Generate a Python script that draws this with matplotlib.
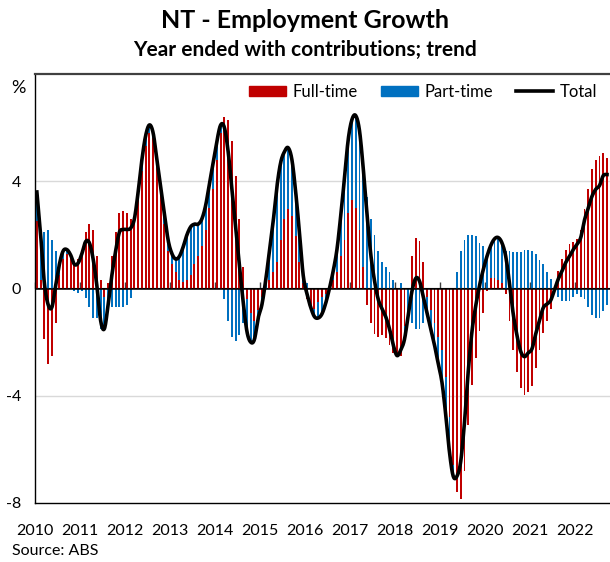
import numpy as np
import matplotlib.pyplot as plt
from matplotlib.lines import Line2D
from matplotlib.patches import Patch

# monthly contributions to year-ended growth (ppt), Jan 2010 - Sep 2022
full_time = [
    2.5, 0.3, -1.9, -2.8, -2.5, -1.3, 0.5, 1.1, 1.3, 1.2, 1.0, 1.1,          # 2010
    1.4, 2.1, 2.4, 2.2, 1.2, 0.3, -0.3, 0.2, 1.2, 2.1, 2.8, 2.9,             # 2011
    2.8, 2.6, 2.5, 3.3, 4.4, 5.3, 5.8, 5.6, 4.7, 3.6, 2.4, 1.4,              # 2012
    0.9, 0.6, 0.3, 0.25, 0.3, 0.5, 0.9, 1.2, 1.6, 2.2, 3.0, 3.7,             # 2013
    4.8, 5.8, 6.4, 6.3, 5.5, 4.2, 2.6, 0.8, -0.4, -0.9, -1.2, -0.8,          # 2014
    -0.3, 0.0, 0.3, 0.6, 1.0, 1.8, 2.6, 2.95, 2.7, 1.95, 1.0, 0.2,           # 2015
    -0.4, -0.7, -0.75, -0.5, -0.3, -0.2, -0.1, 0.3, 0.6, 1.2, 1.8, 2.8,      # 2016
    3.3, 3.0, 2.2, 0.8, -0.6, -1.3, -1.7, -1.8, -1.75, -1.85, -2.1, -2.4,    # 2017
    -2.4, -2.5, -1.4, 0.0, 1.2, 1.88, 1.78, 1.0, -0.3, -0.8, -1.3, -1.8,     # 2018
    -2.3, -3.3, -4.8, -6.6, -7.6, -7.85, -6.8, -5.1, -3.6, -2.6, -1.6, -0.9, # 2019
    -0.1, 0.4, 0.4, 0.3, 0.2, -0.2, -1.2, -2.3, -3.1, -3.7, -3.96, -3.85,    # 2020
    -3.65, -2.96, -2.28, -1.65, -1.2, -0.78, -0.1, 0.65, 1.1, 1.45, 1.65, 1.75,  # 2021
    1.85, 2.2, 2.95, 3.7, 4.44, 4.8, 4.94, 5.06, 4.85,                       # 2022
]
part_time = [
    1.1, 1.7, 2.1, 2.2, 1.8, 1.4, 0.4, 0.3, 0.15, 0.05, -0.1, -0.15,
    -0.1, -0.35, -0.7, -1.1, -1.1, -1.5, -1.2, -0.8, -0.7, -0.7, -0.7, -0.7,
    -0.6, -0.35, 0.1, 0.3, 0.4, 0.4, 0.3, 0.2, 0.1, 0.2, 0.4, 0.4,
    0.4, 0.5, 0.9, 1.3, 1.7, 1.8, 1.5, 1.2, 1.0, 0.9, 0.9, 1.0,
    0.7, 0.3, -0.4, -1.2, -1.8, -1.95, -1.75, -1.3, -1.2, -1.1, -0.7, -0.3,
    -0.3, 0.3, 1.1, 1.9, 2.8, 2.9, 2.5, 2.3, 2.1, 1.65, 1.1, 0.3,
    0.2, 0.0, -0.3, -0.6, -0.65, -0.35, 0.1, 0.35, 0.85, 1.5, 2.3, 2.75,
    3.0, 3.45, 3.7, 3.7, 3.4, 2.6, 2.0, 1.4, 1.0, 0.8, 0.6, 0.3,
    -0.1, 0.2, -0.5, -1.0, -1.3, -1.5, -1.5, -1.3, -0.6, -0.7, -0.8, -1.0,
    -1.2, -1.4, -1.3, -0.4, 0.6, 1.4, 1.8, 2.0, 2.0, 1.95, 1.7, 1.6,
    1.3, 1.2, 1.45, 1.6, 1.5, 1.4, 1.4, 1.35, 1.35, 1.35, 1.42, 1.45,
    1.4, 1.27, 1.08, 0.93, 0.62, 0.34, 0.05, -0.3, -0.45, -0.48, -0.45, -0.3,
    -0.2, -0.3, -0.4, -0.7, -1.0, -1.1, -1.1, -0.85, -0.6,
]
years = list(range(2010, 2023))

ft = np.array(full_time)
pt = np.array(part_time)
total = ft + pt
x = np.arange(len(ft)) + 0.5

# stacked like excel: positives pile up from zero, negatives pile down
pt_bottom = np.where(pt >= 0, np.maximum(ft, 0), np.minimum(ft, 0))


def smooth(xs, ys, n=10):
    # catmull-rom through the points, roughly what excel's "smoothed line" does
    p = np.column_stack([xs, ys])
    p = np.vstack([p[0], p, p[-1]])
    t = np.linspace(0, 1, n, endpoint=False)[:, None]
    out = []
    for i in range(1, len(p) - 2):
        p0, p1, p2, p3 = p[i - 1], p[i], p[i + 1], p[i + 2]
        seg = 0.5 * ((2 * p1) + (-p0 + p2) * t + (2 * p0 - 5 * p1 + 4 * p2 - p3) * t**2
                     + (-p0 + 3 * p1 - 3 * p2 + p3) * t**3)
        out.append(seg)
    out.append(p[-2][None, :])
    out = np.vstack(out)
    return out[:, 0], out[:, 1]


red = "#C00000"
blue = "#0070C0"
plt.rcParams["font.family"] = ["Lato", "DejaVu Sans"]

fig = plt.figure(figsize=(6.10, 5.62), dpi=100)
ax = fig.add_axes([35 / 610, 1 - 503 / 562, 575 / 610, 429 / 562])

ax.bar(x, ft, width=0.5, color=red, linewidth=0, zorder=2)
ax.bar(x, pt, width=0.5, bottom=pt_bottom, color=blue, linewidth=0, zorder=2)
sx, sy = smooth(x, total)
ax.plot(sx, sy, color="black", lw=2.6, solid_joinstyle="round", zorder=4)

ax.axhline(0, color="black", lw=1.1, zorder=3)
for g in (-4, 4):
    ax.axhline(g, color="#d9d9d9", lw=1.0, zorder=1)

ax.set_ylim(-8, 8)
ax.set_xlim(0, 153.3)
ax.set_yticks([-8, -4, 0, 4])
ax.set_yticklabels(["-8", "-4", "0", "4"])
ax.tick_params(axis="y", length=0, pad=10, labelsize=11.5)

ticks = [12 * (y - 2010) for y in years]
ax.set_xticks(ticks)
ax.set_xticklabels([str(y) for y in years])
ax.tick_params(axis="x", length=0, pad=15, labelsize=11.5)

# year tick marks sit on the zero line
sec = ax.secondary_xaxis(0.5)
sec.set_xticks(ticks)
sec.set_xticklabels([])
sec.tick_params(axis="x", direction="out", length=4, width=1, color="#404040")
sec.spines["bottom"].set_visible(False)

for s in ("left", "bottom"):
    ax.spines[s].set_color("black")
    ax.spines[s].set_linewidth(1.0)
ax.spines["top"].set_color("#404040")
ax.spines["top"].set_linewidth(1.6)
ax.spines["right"].set_visible(False)

handles = [Patch(color=red), Patch(color=blue), Line2D([], [], color="black", lw=2.6)]
ax.legend(handles, ["Full-time", "Part-time", "Total"], loc="upper right", ncol=3,
          frameon=False, fontsize=12, handlelength=2.2, handleheight=0.6,
          columnspacing=1.4, handletextpad=0.4, bbox_to_anchor=(0.995, 1.0),
          borderaxespad=0.2)

fig.text(0.5, 1 - 20 / 562, "NT - Employment Growth", ha="center", va="center",
         fontsize=18, fontweight="bold")
fig.text(0.5, 1 - 50 / 562, "Year ended with contributions; trend", ha="center",
         va="center", fontsize=15, fontweight="bold")
fig.text(18 / 610, 1 - 88 / 562, "%", ha="center", va="center", fontsize=13)
fig.text(12 / 610, 1 - 551 / 562, "Source: ABS", ha="left", va="center", fontsize=11.5)

fig.savefig("out.png", dpi=100)
